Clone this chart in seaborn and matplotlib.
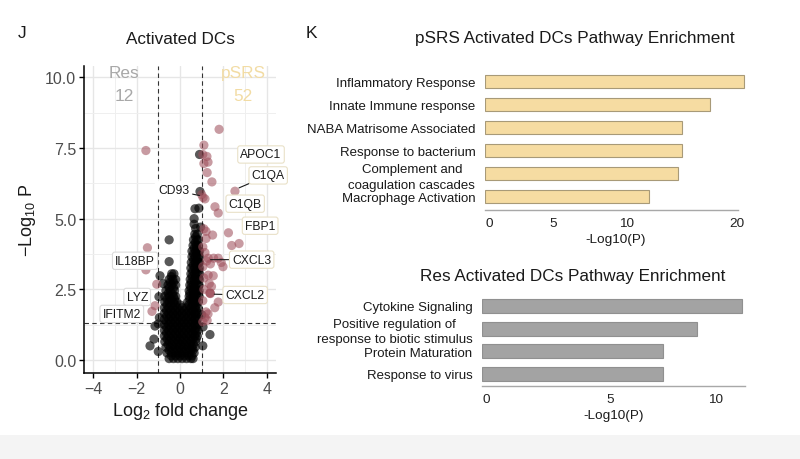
import matplotlib
matplotlib.use("Agg")
import matplotlib.pyplot as plt
import numpy as np
import pandas as pd
import seaborn as sns
from matplotlib.ticker import MultipleLocator, FixedLocator
from matplotlib.patches import Rectangle

sns.set_theme(style="white")
plt.rcParams["font.family"] = ["Liberation Sans", "DejaVu Sans"]
plt.rcParams["mathtext.fontset"] = "custom"
plt.rcParams["mathtext.rm"] = "Liberation Sans"
plt.rcParams["mathtext.it"] = "Liberation Sans:italic"
plt.rcParams["mathtext.bf"] = "Liberation Sans:bold"

# ---------------- Volcano data ----------------
# dense non-significant cloud, read row by row (y level, x positions)
ns_row_y = [0.05, 0.25, 0.45, 0.65, 0.85, 1.05, 1.25, 1.45, 1.65, 1.85,
            2.05, 2.25, 2.45, 2.65, 2.85, 3.05, 3.25, 3.45, 3.65, 3.85,
            4.05, 4.25, 4.45, 4.65,
            0.15, 0.35, 0.55, 0.75, 0.95, 1.15, 1.35, 1.55, 1.75, 1.95,
            2.15, 2.35, 2.55, 2.75, 2.95, 3.15, 3.35, 3.55, 3.75, 3.95,
            4.15, 4.35]
ns_row_x = [
    [-0.5, -0.3, -0.1, 0.1, 0.3, 0.5, 0.6],
    [-0.6, -0.4, -0.2, 0.0, 0.2, 0.4, 0.65],
    [-0.65, -0.45, -0.25, -0.05, 0.15, 0.35, 0.55, 0.7],
    [-0.7, -0.5, -0.3, -0.1, 0.1, 0.3, 0.5, 0.72],
    [-0.72, -0.52, -0.32, -0.12, 0.08, 0.28, 0.48, 0.68, 0.8],
    [-0.72, -0.52, -0.32, -0.12, 0.08, 0.28, 0.48, 0.68, 0.82],
    [-0.72, -0.52, -0.32, -0.12, 0.08, 0.28, 0.48, 0.68, 0.82],
    [-0.72, -0.52, -0.32, -0.12, 0.08, 0.28, 0.48, 0.68, 0.82],
    [-0.72, -0.52, -0.32, -0.12, 0.1, 0.3, 0.5, 0.7, 0.83],
    [-0.72, -0.52, -0.32, -0.12, 0.1, 0.3, 0.5, 0.7, 0.83],
    [-0.7, -0.5, -0.3, -0.15, 0.35, 0.55, 0.72, 0.83],
    [-0.7, -0.5, -0.3, -0.2, 0.42, 0.6, 0.78, 0.88],
    [-0.65, -0.45, -0.25, 0.42, 0.6, 0.8, 0.88],
    [-0.55, -0.38, -0.2, 0.45, 0.62, 0.8, 0.88],
    [-0.5, -0.33, -0.2, 0.47, 0.65, 0.82, 0.9],
    [-0.38, -0.28, 0.5, 0.68, 0.83, 0.9],
    [0.5, 0.68, 0.83, 0.9],
    [0.52, 0.7, 0.85, 0.9],
    [0.55, 0.7, 0.85, 0.9],
    [0.55, 0.72, 0.85, 0.9],
    [0.6, 0.75, 0.85],
    [0.62, 0.78, 0.85],
    [0.68, 0.8],
    [0.72],
    [-0.4, -0.2, 0.0, 0.2, 0.4, 0.55],
    [-0.5, -0.3, -0.1, 0.1, 0.3, 0.5, 0.6],
    [-0.55, -0.35, -0.15, 0.05, 0.25, 0.45, 0.62],
    [-0.6, -0.4, -0.2, 0.0, 0.2, 0.4, 0.6, 0.75],
    [-0.62, -0.42, -0.22, -0.02, 0.18, 0.38, 0.58, 0.75],
    [-0.62, -0.42, -0.22, -0.02, 0.18, 0.38, 0.58, 0.75],
    [-0.62, -0.42, -0.22, -0.02, 0.18, 0.38, 0.58, 0.75],
    [-0.62, -0.42, -0.22, -0.02, 0.18, 0.38, 0.58, 0.75],
    [-0.62, -0.42, -0.22, -0.02, 0.2, 0.4, 0.6, 0.75],
    [-0.6, -0.4, -0.22, 0.0, 0.4, 0.6, 0.75],
    [-0.6, -0.4, -0.25, 0.45, 0.62, 0.75],
    [-0.55, -0.35, 0.45, 0.65, 0.75],
    [-0.5, -0.3, 0.5, 0.65, 0.75],
    [-0.45, -0.3, 0.52, 0.7],
    [-0.4, 0.55, 0.72],
    [0.58, 0.75],
    [0.6, 0.75],
    [0.62, 0.78],
    [0.62, 0.78],
    [0.65, 0.78],
    [0.7],
    [0.72],
]
# scattered non-significant points
ns_extra_x = [-0.5, -0.5, -0.92, -0.77, -0.97, -1.0, -1.15, -1.38, -1.2, -1.0,
              -0.95, 1.38, 1.06, 1.0, 1.05, 0.65, 0.69, 0.87, 0.92, 0.9, 0.95, 0.65]
ns_extra_y = [4.25, 3.48, 2.98, 2.7, 2.24, 1.28, 1.2, 0.5, 0.74, 0.3,
              1.5, 0.9, 1.17, 1.6, 0.5, 4.8, 5.35, 5.37, 5.96, 7.27, 4.7, 5.0]
# significant points
sig_x = [1.80, -1.57, 1.1, 1.05, 1.24, 1.29, 1.1, 1.25, 1.47, 2.53,
         1.06, 1.0, 1.15, 1.61, 1.76, 2.23, 1.5, 2.38, 2.72, 1.1,
         1.2, 1.76, 1.98, 1.23, 1.53, 1.1, 1.38, 1.76, 1.6, 1.2,
         1.29, 1.25, -1.5, -1.57, -1.07, -1.15, -1.29, 1.05, 1.15, 1.05,
         1.3, 1.4, 1.1, 1.35, 1.05, 1.15, 1.05, 1.45, 1.2, 1.3,
         1.55, 1.9, 1.4, 1.38]
sig_y = [8.16, 7.41, 7.6, 7.27, 7.2, 7.0, 6.95, 6.63, 6.3, 5.97,
         5.75, 5.85, 5.7, 5.42, 5.2, 4.5, 4.42, 4.05, 4.12, 4.64,
         4.3, 3.6, 3.3, 3.5, 2.98, 2.9, 2.38, 2.05, 1.85, 1.7,
         1.63, 1.4, 3.97, 3.19, 2.68, 1.92, 1.72, 4.0, 3.8, 3.3,
         3.6, 3.4, 2.5, 2.7, 2.1, 1.5, 1.35, 2.6, 4.55, 3.0,
         3.6, 3.45, 2.35, 2.36]

gene_names = ["APOC1", "C1QA", "C1QB", "FBP1", "CXCL3", "CXCL2",
              "IL18BP", "LYZ", "IFITM2", "CD93"]
gene_lab_x = [3.73, 4.06, 3.0, 3.69, 3.3, 3.0, -2.07, -1.97, -2.68, -0.3]
gene_lab_y = [7.27, 6.53, 5.53, 4.75, 3.55, 2.3, 3.51, 2.23, 1.63, 6.0]
gene_pt_x = [None, 2.6, None, None, 1.28, 1.45, None, None, None, 1.02]
gene_pt_y = [None, 6.05, None, None, 3.55, 2.33, None, None, None, 5.8]

# ---------------- Pathway enrichment data ----------------
psrs_terms = ["Inflammatory Response", "Innate Immune response",
              "NABA Matrisome Associated", "Response to bacterium",
              "Complement and\ncoagulation cascades", "Macrophage Activation"]
psrs_vals = [20.6, 17.9, 15.6, 15.6, 15.3, 13.0]
psrs_tick_pos = [0.3, 5.4, 11.27, 20.0]
psrs_tick_lab = ["0", "5", "10", "20"]

res_terms = ["Cytokine Signaling", "Positive regulation of\nresponse to biotic stimulus",
             "Protein Maturation", "Response to virus"]
res_vals = [11.1, 9.19, 7.74, 7.74]
res_tick_pos = [0.2, 5.47, 10.0]
res_tick_lab = ["0", "5", "10"]

# ---------------- build frames ----------------
vx, vy = [], []
for yv, xs in zip(ns_row_y, ns_row_x):
    for xv in xs:
        vx.append(xv)
        vy.append(yv)
vx += ns_extra_x
vy += ns_extra_y
ns_df = pd.DataFrame({"lfc": vx, "nlp": vy})
sig_df = pd.DataFrame({"lfc": sig_x, "nlp": sig_y})

W, H = 800, 460
fig = plt.figure(figsize=(8, 4.6), dpi=100)
fig.patch.set_facecolor("white")
fig.add_artist(Rectangle((0, 0), 1, 24 / H, transform=fig.transFigure,
                         facecolor="#f4f4f4", edgecolor="none", zorder=-10))

def fax(l, t, r, b):
    return fig.add_axes([l / W, 1 - b / H, (r - l) / W, (b - t) / H])

# ---------------- Volcano ----------------
ax = fax(84, 67, 276, 374)
ax.set_xlim(-4.42, 4.42)
ax.set_ylim(-0.46, 10.4)
ax.set_facecolor("white")
ax.xaxis.set_major_locator(FixedLocator([-4, -2, 0, 2, 4]))
ax.xaxis.set_minor_locator(MultipleLocator(1))
ax.yaxis.set_major_locator(FixedLocator([0, 2.5, 5, 7.5, 10]))
ax.yaxis.set_minor_locator(MultipleLocator(1.25))
ax.grid(which="major", color="#e6e6e6", lw=1.0)
ax.grid(which="minor", color="#efefef", lw=0.7)
ax.set_axisbelow(True)
ax.set_yticks([0, 2.5, 5, 7.5, 10])
ax.set_yticklabels(["0.0", "2.5", "5.0", "7.5", "10.0"])
for s in ["top", "right"]:
    ax.spines[s].set_visible(False)
for s in ["left", "bottom"]:
    ax.spines[s].set_color("black")
    ax.spines[s].set_linewidth(1.1)
ax.tick_params(which="major", length=3.5, width=1.0, color="black",
               labelsize=11.5, labelcolor="#4d4d4d", pad=2,
               bottom=True, left=True)
ax.tick_params(which="minor", length=0)

for xv in (-1, 1):
    ax.axvline(xv, color="#333333", lw=0.8, dashes=(4, 3), zorder=1)
ax.axhline(1.30, color="#333333", lw=0.8, dashes=(4, 3), zorder=1)

sns.scatterplot(data=ns_df, x="lfc", y="nlp", ax=ax, color="black", alpha=0.65,
                s=44, edgecolor="none", zorder=3, legend=False)
sns.scatterplot(data=sig_df, x="lfc", y="nlp", ax=ax, color="#9e4e5a", alpha=0.56,
                s=44, edgecolor="none", zorder=4, legend=False)

for name, lx, ly, px, py in zip(gene_names, gene_lab_x, gene_lab_y, gene_pt_x, gene_pt_y):
    ec = "#e9e1c8" if lx > 0 else "#dcdcdc"
    if name == "CD93":
        ec = "white"
    bbox = dict(boxstyle="round,pad=0.22,rounding_size=0.2", fc="white", ec=ec, lw=0.8)
    if px is None:
        ax.text(lx, ly, name, ha="center", va="center", fontsize=8.7,
                color="#1a1a1a", bbox=bbox, zorder=6, clip_on=False)
    else:
        ax.annotate(name, xy=(px, py), xytext=(lx, ly), ha="center", va="center",
                    fontsize=8.7, color="#1a1a1a", bbox=bbox, zorder=6,
                    annotation_clip=False,
                    arrowprops=dict(arrowstyle="-", color="#1a1a1a", lw=0.8,
                                    shrinkA=0, shrinkB=2))

ax.text(-2.58, 10.18, "Res", ha="center", va="center", fontsize=12.4, color="#a8a8a8")
ax.text(-2.58, 9.36, "12", ha="center", va="center", fontsize=12.4, color="#a8a8a8")
ax.text(2.9, 10.18, "pSRS", ha="center", va="center", fontsize=12.4, color="#f2dca4")
ax.text(2.9, 9.36, "52", ha="center", va="center", fontsize=12.4, color="#f2dca4")

ax.set_xlabel(r"$\mathrm{Log}_{2}\ \mathrm{fold\ change}$", fontsize=13, color="#1a1a1a", labelpad=3)
ax.set_ylabel(r"$-\mathrm{Log}_{10}\ \mathrm{P}$", fontsize=13, color="#1a1a1a", labelpad=5)

fig.text(180 / W, 1 - 40 / H, "Activated DCs", ha="center", va="center", fontsize=12.3, color="#1a1a1a")
fig.text(22 / W, 1 - 33 / H, "J", ha="center", va="center", fontsize=12.5, color="#1a1a1a")
fig.text(311 / W, 1 - 33 / H, "K", ha="center", va="center", fontsize=12.5, color="#1a1a1a")

# ---------------- bar axis styling ----------------
def style_bar_axis(a, terms, tpos, tlab, spine_end):
    for s in ["top", "right", "left"]:
        a.spines[s].set_visible(False)
    a.spines["bottom"].set_color("#a8a8a8")
    a.spines["bottom"].set_linewidth(1.0)
    a.spines["bottom"].set_bounds(0, spine_end)
    a.set_xticks(tpos)
    a.set_xticklabels(tlab)
    a.set_yticks(range(len(terms)))
    a.set_yticklabels(terms, multialignment="center", linespacing=1.35)
    a.tick_params(axis="x", length=0, labelsize=9.7, labelcolor="#222222", pad=5)
    a.tick_params(axis="y", length=0, labelsize=9.5, labelcolor="#1a1a1a", pad=7)
    a.set_ylabel("")
    a.grid(False)
    a.set_facecolor("white")

# ---------------- pSRS bars ----------------
psrs_df = pd.DataFrame({"term": psrs_terms, "val": psrs_vals})
ax2 = fax(485, 71.4, 747, 211)
sns.barplot(data=psrs_df, y="term", x="val", ax=ax2, orient="h", color="#f6dca2",
            edgecolor="#a89a78", linewidth=0.8, width=0.57, saturation=1)
ax2.set_xlim(0, 20.8)
ax2.set_ylim(5.57, -0.5)
style_bar_axis(ax2, psrs_terms, psrs_tick_pos, psrs_tick_lab, 20.1)
ax2.set_xlabel("-Log10(P)", fontsize=9.7, color="#1a1a1a", labelpad=3)
fig.text(575 / W, 1 - 38 / H, "pSRS Activated DCs Pathway Enrichment",
         ha="center", va="center", fontsize=12.3, color="#1a1a1a")

# ---------------- Res bars ----------------
res_df = pd.DataFrame({"term": res_terms, "val": res_vals})
ax3 = fax(482, 295.6, 745, 387)
sns.barplot(data=res_df, y="term", x="val", ax=ax3, orient="h", color="#a3a3a3",
            edgecolor="#909090", linewidth=0.8, width=0.62, saturation=1)
ax3.set_xlim(0, 11.24)
ax3.set_ylim(3.53, -0.5)
style_bar_axis(ax3, res_terms, res_tick_pos, res_tick_lab, 11.24)
ax3.set_xlabel("-Log10(P)", fontsize=9.7, color="#1a1a1a", labelpad=3)
fig.text(573 / W, 1 - 277 / H, "Res Activated DCs Pathway Enrichment",
         ha="center", va="center", fontsize=12.3, color="#1a1a1a")

fig.savefig("out.png", dpi=100)
